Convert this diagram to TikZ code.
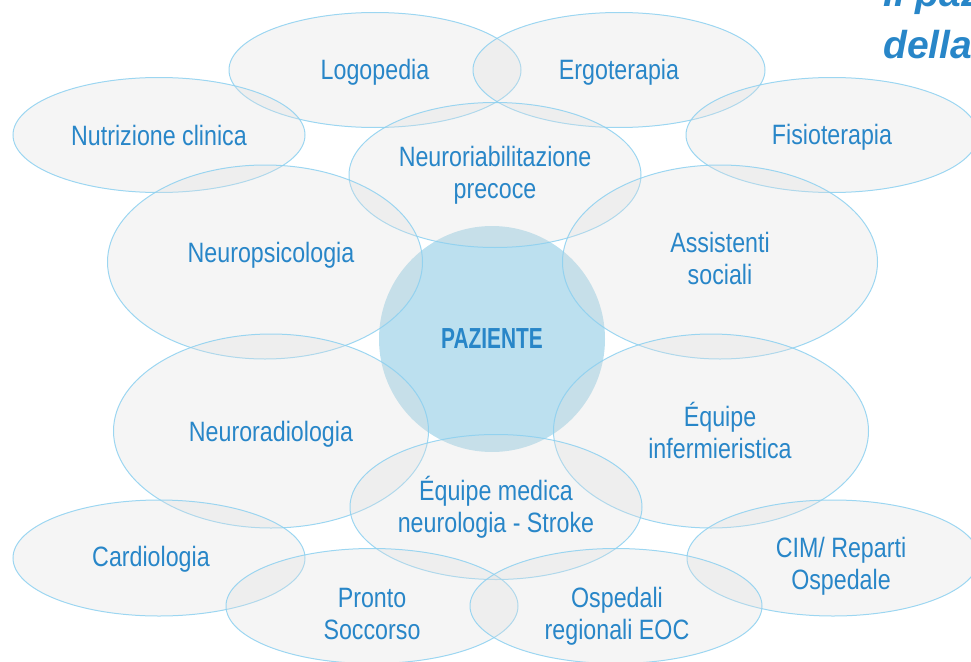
\documentclass[tikz,border=0pt]{standalone}
\usepackage{fontspec}
\setmainfont[FakeStretch=0.83]{Liberation Sans}
\newfontfamily\boldnarrow[FakeStretch=0.72]{Liberation Sans}
\newfontfamily\titlefont{Liberation Sans}
\usetikzlibrary{shapes.geometric}

\definecolor{labelblue}{RGB}{40,134,200}
\definecolor{ringblue}{RGB}{140,208,240}
\definecolor{cloudgray}{RGB}{222,222,222}
\definecolor{corefill}{RGB}{188,224,239}

\begin{document}
\begin{tikzpicture}[x=1pt,y=-1pt]
  \useasboundingbox (0,0) rectangle (971,661);
  \clip (0,0) rectangle (971,661);
  \node[circle,fill=corefill,minimum size=226pt,inner sep=0pt] (paziente) at (492,339) {};
  % the clouds
  \begin{scope}[every node/.style={ellipse,draw=ringblue,line width=1pt,draw opacity=0.85,
      fill=cloudgray,fill opacity=0.3,inner sep=0pt}]
  \node[minimum width=292pt,minimum height=115pt] (logo) at (375,70) {};
  \node[minimum width=292pt,minimum height=115pt] (ergo) at (619,70) {};
  \node[minimum width=292pt,minimum height=115pt] (nutri) at (159,135) {};
  \node[minimum width=292pt,minimum height=115pt] (fisio) at (832,135) {};
  \node[minimum width=292pt,minimum height=145pt] (riab) at (495,175) {};
  \node[minimum width=315pt,minimum height=194pt] (psico) at (265,262) {};
  \node[minimum width=315pt,minimum height=194pt] (sociali) at (720,262) {};
  \node[minimum width=315pt,minimum height=194pt] (radio) at (271,431) {};
  \node[minimum width=315pt,minimum height=194pt] (inferm) at (711,431) {};
  \node[minimum width=292pt,minimum height=145pt] (stroke) at (496,507) {};
  \node[minimum width=292pt,minimum height=116pt] (cardio) at (159,558) {};
  \node[minimum width=292pt,minimum height=116pt] (cim) at (833,558) {};
  \node[minimum width=292pt,minimum height=115pt] (pronto) at (372,606) {};
  \node[minimum width=292pt,minimum height=115pt] (eoc) at (616,606) {};
  \end{scope}
  % the labels
  \begin{scope}[every node/.style={text=labelblue,inner sep=0pt,align=center,
      font=\fontsize{28}{32}\selectfont}]
  \node (logotext) at (375,72) {Logopedia};
  \node (ergotext) at (619,72) {Ergoterapia};
  \node (nutritext) at (159,135) {Nutrizione clinica};
  \node (fisiotext) at (832,137) {Fisioterapia};
  \node (riabtext) at (495,175) {Neuroriabilitazione\\precoce};
  \node (psicotext) at (271,255) {Neuropsicologia};
  \node (socialitext) at (720,258) {Assistenti\\sociali};
  \node (radiotext) at (271,434) {Neuroradiologia};
  \node (infermtext) at (720,430) {Équipe\\infermieristica};
  \node (stroketext) at (496,507) {Équipe medica\\neurologia - Stroke};
  \node (cardiotext) at (151,559) {Cardiologia};
  \node (cimtext) at (841,566) {CIM/ Reparti\\Ospedale};
  \node (prontotext) at (372,614) {Pronto\\Soccorso};
  \node (eoctext) at (617,616) {Ospedali\\regionali EOC};
  \end{scope}
  \node[text=labelblue,font=\boldnarrow\bfseries\fontsize{29}{32}\selectfont] (pazlabel) at (paziente) {PAZIENTE};
  \begin{scope}[every node/.style={anchor=base west,inner sep=0pt,text=labelblue,
      font=\titlefont\bfseries\itshape\fontsize{39}{52}\selectfont}]
  \node (titolo) at (883,7) {Il paz};
  \node (titolob) at (883,59) {della};
  \end{scope}
\end{tikzpicture}
\end{document}
